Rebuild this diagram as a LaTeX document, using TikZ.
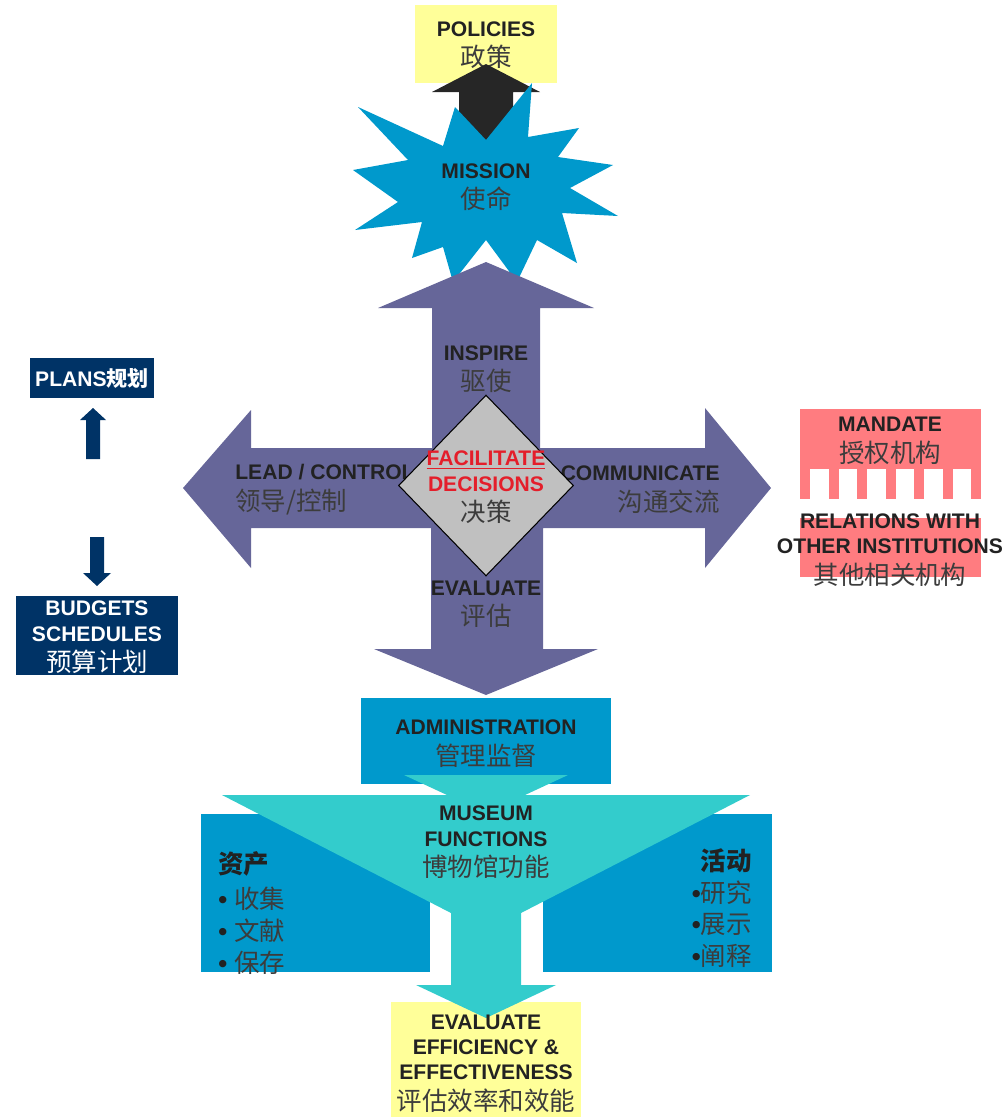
\documentclass[tikz,border=0pt]{standalone}
\usepackage{fontspec}
\setmainfont{Liberation Sans}
\newfontfamily\cjk{Noto Sans CJK SC}
\usepackage{tikz}
\usetikzlibrary{shapes.geometric}

\definecolor{paleyellow}{HTML}{FFFF99}
\definecolor{missionblue}{HTML}{0099CC}
\definecolor{crosspurple}{HTML}{666699}
\definecolor{navy}{HTML}{003366}
\definecolor{mandatepink}{HTML}{FF7C80}
\definecolor{funnelteal}{HTML}{33CCCC}
\definecolor{arrowblack}{HTML}{262626}
\definecolor{engray}{HTML}{222222}
\definecolor{zhgray}{HTML}{3C3C3C}
\definecolor{alertred}{HTML}{E41E2A}
\definecolor{dmdgray}{HTML}{C0C0C0}

\newcommand{\zh}[2][zhgray]{{\cjk\mdseries\fontsize{14.5}{14.5}\selectfont\color{#1}#2}}

\begin{document}
\begin{tikzpicture}[x=0.02cm, y=-0.02cm]
        \tikzset{txt/.style = {align=center, font=\fontsize{12}{14.5}\selectfont\bfseries, text=engray, inner sep=0pt}}
        \tikzset{box/.style = {txt, rectangle, inner sep=0pt}}
        \tikzset{navybox/.style = {box, fill=navy, text=white}}
        \tikzset{dmd/.style = {diamond, draw=black, line width=0.6pt, fill=dmdgray, inner sep=0pt,
                               minimum width=3.5cm, minimum height=3.62cm}}

        \useasboundingbox (0,0) rectangle (1008,1117);

        % policies and mission
        \node[box, fill=paleyellow, minimum width=2.84cm, minimum height=1.56cm] (policies) at (486,44) {};
        \node[txt] (policiestxt) at (486,45) {POLICIES\\[2.8pt]\zh{政策}};
        \fill[arrowblack] (486,64) -- (540,92) -- (513,92) -- (513,160) -- (459,160) -- (459,92) -- (432,92) -- cycle;
        \fill[missionblue] (358,107) -- (443,146) -- (455,107) -- (486,140) -- (532,83) -- (528,137)
              -- (579,128) -- (558,157) -- (613,165) -- (570,188) -- (618,216) -- (562,213)
              -- (577,263) -- (537,240) -- (517,282) -- (486,240) -- (453,282) -- (443,247)
              -- (412,258) -- (422,222) -- (355,230) -- (398,202) -- (353,170) -- (408,160) -- cycle;
        \node[txt] (mission) at (486,187) {MISSION\\[2.8pt]\zh{使命}};

        % cross
        \fill[crosspurple] (486,262) -- (594,308) -- (540,308) -- (540,448) -- (705,448) -- (705,408)
              -- (771,488) -- (705,568) -- (705,528) -- (543,528) -- (543,649) -- (598,649)
              -- (486,695) -- (374,649) -- (431,649) -- (431,528) -- (251,528) -- (251,568)
              -- (183,488) -- (251,410) -- (251,448) -- (432,448) -- (432,308) -- (378,308) -- cycle;
        \node[txt] (inspire) at (486,369) {INSPIRE\\[2.8pt]\zh{驱使}};
        \node[txt, anchor=west, align=left] (lead) at (235,489.5) {LEAD / CONTROL\\[2.8pt]\zh{领导/控制}};
        \node[txt, anchor=east, align=right] (comm) at (720,489.5) {COMMUNICATE\\[2.8pt]\zh{沟通交流}};
        \node[txt] (evaluate) at (486,604) {EVALUATE\\[2.8pt]\zh{评估}};
        \node[dmd] (decide) at (486,485.5) {};
        \node[txt, text=alertred] (facilitate) at (486,487.5) {\underline{FACILITATE}\\DECISIONS\\[2.8pt]\zh{决策}};

        % plans and budgets
        \node[navybox, minimum width=2.48cm, minimum height=0.8cm] (plans) at (92,378) {PLANS{\cjk 规划}};
        \fill[navy] (93,408) -- (106,420) -- (100,420) -- (100,459) -- (86,459) -- (86,420) -- (80,420) -- cycle;
        \fill[navy] (97,586) -- (111,573) -- (104,573) -- (104,537) -- (90,537) -- (90,573) -- (83,573) -- cycle;
        \node[navybox, minimum width=3.24cm, minimum height=1.58cm] (budgets) at (97,635.5) {};
        \node[txt, text=white] (budgetstxt) at (97,637.5) {BUDGETS\\SCHEDULES\\[2.8pt]\zh[white]{预算计划}};

        % mandate
        \fill[mandatepink] (800,409) rectangle (981,499);
        \fill[white] (810,469) rectangle (829,500);
        \fill[white] (839,469) rectangle (857,500);
        \fill[white] (867,469) rectangle (886,500);
        \fill[white] (896,469) rectangle (914,500);
        \fill[white] (924,469) rectangle (943,500);
        \fill[white] (953,469) rectangle (971,500);
        \fill[mandatepink] (800,518) rectangle (981,577);
        \node[txt] (mandate) at (890,441) {MANDATE\\[2.8pt]\zh{授权机构}};
        \node[txt] (relations) at (890,550) {RELATIONS WITH\\OTHER INSTITUTIONS\\[2.8pt]\zh{其他相关机构}};

        % administration and museum functions
        \node[box, fill=missionblue, minimum width=5cm, minimum height=1.72cm] (admin) at (486,741) {};
        \node[txt] (admintxt) at (486,743.5) {ADMINISTRATION\\[2.8pt]\zh{管理监督}};
        \fill[missionblue] (201,814) rectangle (430,972);
        \fill[missionblue] (543,814) rectangle (772,972);
        \node[fill=paleyellow, minimum width=3.8cm, minimum height=2.3cm, inner sep=0pt] (effbox) at (486,1059.5) {};
        \fill[funnelteal] (404,775) -- (568,775) -- (525,795) -- (750,795) -- (521,913) -- (521,985)
              -- (556,985) -- (486,1018) -- (416,985) -- (451,985) -- (451,913) -- (222,795)
              -- (447,795) -- cycle;
        \node[txt] (museum) at (486,842.5) {MUSEUM\\FUNCTIONS\\[2.8pt]\zh{博物馆功能}};
        \node[txt, anchor=west, align=left, font=\fontsize{14.5}{18}\selectfont] (assets) at (218,913)
              {{\cjk\bfseries 资产}\\[2pt]\bfseries• \zh{收集}\\\bfseries• \zh{文献}\\\bfseries• \zh{保存}};
        \node[txt, anchor=east, align=right, font=\fontsize{14.5}{18}\selectfont] (activities) at (752,908)
              {{\cjk\bfseries 活动}\\\bfseries•\zh{研究}\\\bfseries•\zh{展示}\\\bfseries•\zh{阐释}};
        \node[txt] (efficiency) at (486,1063.5)
              {EVALUATE\\EFFICIENCY \&\\EFFECTIVENESS\\[2.8pt]\zh{评估效率和效能}};
      \end{tikzpicture}
\end{document}
